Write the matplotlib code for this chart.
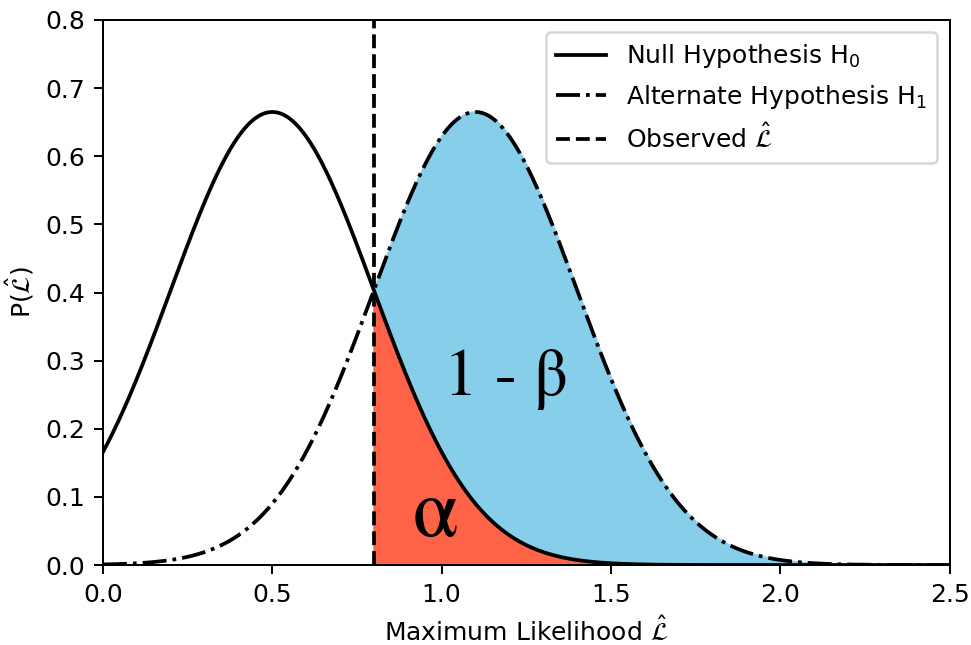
import numpy as np
import matplotlib
matplotlib.use("Agg")
import matplotlib.pyplot as plt

# Distribution parameters for the two hypotheses
null_mean = 0.5
alt_mean = 1.1
spread = 0.3
peak = 0.665
observed = 0.8

x_range = (0.0, 2.5)
y_range = (0.0, 0.8)


def bell(x, mu):
    return peak * np.exp(-0.5 * ((x - mu) / spread) ** 2)


dpi = 180
fig = plt.figure(figsize=(971 / dpi, 645 / dpi), dpi=dpi)
ax = fig.add_axes([0.106, 0.124, 0.872, 0.845])

x = np.linspace(x_range[0], x_range[1], 1000)
y_null = bell(x, null_mean)
y_alt = bell(x, alt_mean)

right = x >= observed
ax.fill_between(x[right], 0, y_alt[right], color="skyblue")
ax.fill_between(x[right], 0, y_null[right], color="tomato")

ax.plot(x, y_null, "k-", lw=1.5, label=r"Null Hypothesis H$_0$")
ax.plot(x, y_alt, "k-.", lw=1.5, label=r"Alternate Hypothesis H$_1$")
ax.axvline(observed, color="k", ls="--", lw=1.5, label=r"Observed $\hat{\mathcal{L}}$")

ax.text(1.19, 0.272, "1 - β", fontsize=27, ha="center", va="center",
        family="STIXGeneral")
ax.text(0.98, 0.07, "α", fontsize=33, ha="center", va="center",
        family="STIXGeneral")

ax.set_xlim(*x_range)
ax.set_ylim(*y_range)
ax.set_xlabel(r"Maximum Likelihood $\hat{\mathcal{L}}$")
ax.set_ylabel(r"P($\hat{\mathcal{L}}$)")
ax.legend(loc="upper right")

fig.savefig("out.png", dpi=dpi)
